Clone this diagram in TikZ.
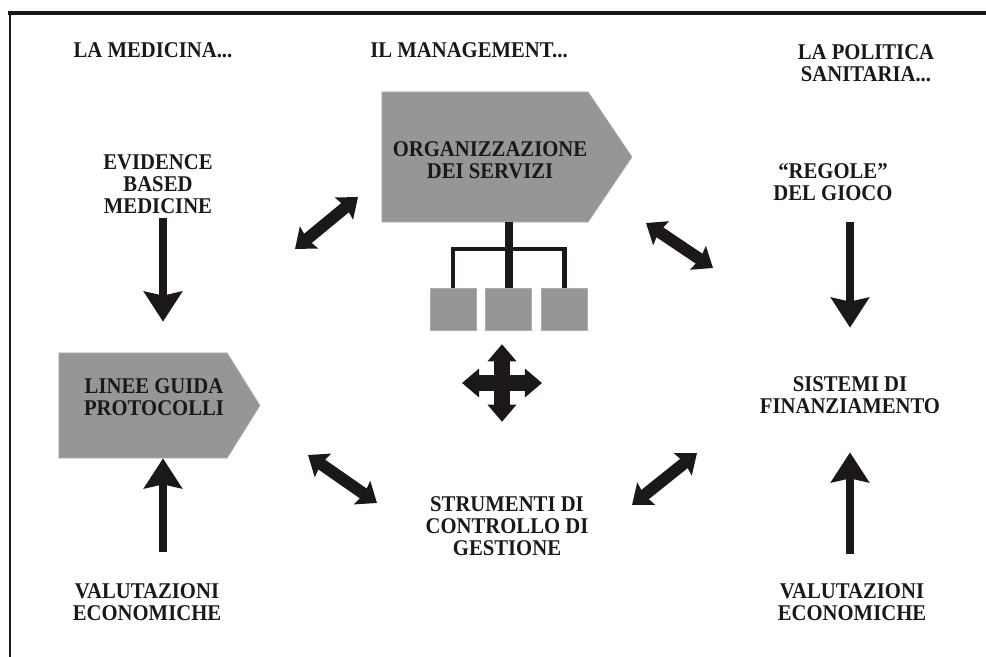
\documentclass[tikz,border=0pt]{standalone}
\usepackage{fontspec}
\setmainfont{Liberation Serif}[FakeStretch=0.92]
\usetikzlibrary{arrows.meta, positioning, shapes.symbols}
\definecolor{ink}{RGB}{28,24,24}
\definecolor{boxgray}{RGB}{150,150,150}

\begin{document}
\begin{tikzpicture}[
        x=0.025cm, y=-0.025cm,
        txt/.style={align=center, font=\bfseries\fontsize{16}{15.8}\selectfont, text=ink, inner sep=1pt},
        pentagon/.style={signal, signal to=east, fill=boxgray, draw=boxgray!80!white, line width=0.5pt, inner sep=0pt},
        unit/.style={rectangle, fill=boxgray, draw=boxgray!80!white, line width=0.5pt, minimum width=1.15cm, minimum height=1.05cm, inner sep=0pt},
        arrow/.style={draw=ink, line width=5pt, -{Stealth[length=0.75cm, width=0.95cm, inset=0.1cm]}},
        dblarrow/.style={draw=ink, line width=8.5pt, {Stealth[length=0.45cm, width=0.7cm, inset=0.06cm]}-{Stealth[length=0.45cm, width=0.7cm, inset=0.06cm]}},
        crossarrow/.style={draw=ink, line width=11pt, {Triangle[length=0.43cm, width=0.7cm]}-{Triangle[length=0.43cm, width=0.7cm]}},
        link/.style={draw=ink, line width=3.5pt}
    ]
        \useasboundingbox (0,0) rectangle (986,657);

        % Frame (top and left only)
        \draw [ink, line width=2.2pt] (8,13) -- (986,13);
        \draw [ink, line width=1.5pt] (10,12) -- (10,657);

        % Column headers
        \node (hmed) [txt] at (153,50) {LA MEDICINA...};
        \node (hman) [txt] at (469,50) {IL MANAGEMENT...};
        \node (hpol) [txt] at (866,63) {LA POLITICA\\SANITARIA...};

        % Left column: medicine
        \node (ebm) [txt] at (158,184) {EVIDENCE\\BASED\\MEDICINE};
        \node (lgp) [pentagon, signal pointer angle=116, minimum width=5.025cm, minimum height=2.625cm] at (143,405.5) {};
        \node (lgptext) [txt] at (154,397) {LINEE GUIDA\\PROTOCOLLI};
        \node (vel) [txt] at (147,602) {VALUTAZIONI\\ECONOMICHE};

        % Middle column: management
        \node (org) [pentagon, signal pointer angle=112, minimum width=6.25cm, minimum height=3.25cm] at (485,157) {};
        \node (orgtext) [txt] at (490,160) {ORGANIZZAZIONE\\DEI SERVIZI};
        \node (u1) [unit] at (453,309) {};
        \node (u2) [unit, right=0.225cm of u1] {};
        \node (u3) [unit, right=0.225cm of u2] {};
        \coordinate (bar) at (509,249);
        \coordinate (cross) at (502,383);
        \node (smg) [txt] at (507,526) {STRUMENTI DI\\CONTROLLO DI\\GESTIONE};

        % Right column: health policy
        \node (regole) [txt] at (833,182) {“REGOLE”\\DEL GIOCO};
        \node (sdf) [txt] at (850,395) {SISTEMI DI\\FINANZIAMENTO};
        \node (ver) [txt] at (852,602) {VALUTAZIONI\\ECONOMICHE};

        % Org chart
        \draw [link, line width=6pt] (u2.north |- org.south) -- (u2.north);
        \draw [link] (u1.north) |- (bar) -| (u3.north);

        % Four-way arrow
        \draw [crossarrow] ([xshift=-1cm]cross) -- ([xshift=1cm]cross);
        \draw [crossarrow] ([yshift=0.97cm]cross) -- ([yshift=-0.97cm]cross);

        % Vertical arrows
        \draw [arrow, shorten <=2pt, shorten >=0.775cm] (163,0 |- ebm.south) -- (163,0 |- lgp.north);
        \draw [arrow, shorten <=0.75cm] (163,0 |- vel.north) -- (163,0 |- lgp.south);
        \draw [arrow, shorten <=0.5cm, shorten >=1.175cm] (sdf.north |- regole.south) -- (sdf.north);
        \draw [arrow, shorten <=0.7cm, shorten >=0.925cm] (sdf.south |- ver.north) -- (sdf.south);

        % Double arrows between the columns
        \coordinate (d1a) at (295,249);
        \coordinate (d1b) at (358,197);
        \coordinate (d2a) at (646,223);
        \coordinate (d2b) at (713,268);
        \coordinate (d3a) at (308,455);
        \coordinate (d3b) at (377,503);
        \coordinate (d4a) at (632,505);
        \coordinate (d4b) at (697,453);
        \draw [dblarrow] (d1a) -- (d1b);
        \draw [dblarrow] (d2a) -- (d2b);
        \draw [dblarrow] (d3a) -- (d3b);
        \draw [dblarrow] (d4a) -- (d4b);

    \end{tikzpicture}
\end{document}
